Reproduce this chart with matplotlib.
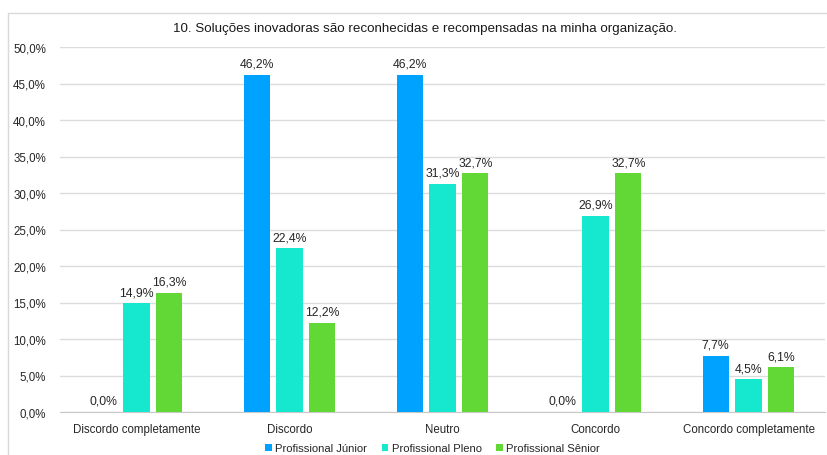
import matplotlib.pyplot as plt
from matplotlib.patches import Rectangle
from matplotlib.ticker import FuncFormatter
import numpy as np

plt.rcParams['font.family'] = ['Liberation Sans', 'DejaVu Sans']

categories = ['Discordo completamente', 'Discordo', 'Neutro', 'Concordo', 'Concordo completamente']
series = ['Profissional Júnior', 'Profissional Pleno', 'Profissional Sênior']
junior = [0.0, 46.2, 46.2, 0.0, 7.7]
pleno = [14.9, 22.4, 31.3, 26.9, 4.5]
senior = [16.3, 12.2, 32.7, 32.7, 6.1]
colors = ['#00A2FF', '#16E7CF', '#61D836']
title = '10. Soluções inovadoras são reconhecidas e recompensadas na minha organização.'


def pct(v):
    return f'{v:.1f}%'.replace('.', ',')


fig = plt.figure(figsize=(8.27, 4.56), dpi=100, facecolor='white')
# outer frame of the chart box
fig.patches.append(Rectangle((8 / 827, -0.1), 1.0, 1 - 14 / 456 + 0.1, transform=fig.transFigure,
                             fill=False, edgecolor='#d9d9d9', linewidth=1.0))

ax = fig.add_axes([60 / 827, 1 - 413 / 456, 765 / 827, 365 / 456])
x = np.arange(len(categories))
step = 0.215
width = 0.17
for i, (vals, name, col) in enumerate(zip([junior, pleno, senior], series, colors)):
    pos = x + (i - 1) * step
    ax.bar(pos, vals, width, color=col, label=name, zorder=3)
    for px, v in zip(pos, vals):
        ax.text(px, v + 0.7, pct(v), ha='center', va='bottom', fontsize=8.8, color='#262626')

ax.set_xlim(-0.5, 4.5)
ax.set_ylim(0, 50)
ax.set_yticks(np.arange(0, 51, 5))
ax.yaxis.set_major_formatter(FuncFormatter(lambda v, p: pct(v)))
ax.set_xticks(x)
ax.set_xticklabels(categories)
ax.tick_params(axis='both', length=0, labelsize=8.3, colors='#262626')
ax.tick_params(axis='x', pad=8)
ax.tick_params(axis='y', pad=10)
ax.grid(axis='y', color='#dcdcdc', linewidth=1.0, zorder=0)
for s in ['top', 'right', 'left']:
    ax.spines[s].set_visible(False)
ax.spines['bottom'].set_color('#c8c8c8')
ax.set_axisbelow(True)

fig.text(0.514, 1 - 29 / 456, title, ha='center', va='center', fontsize=9.6, color='#1a1a1a')

ax.legend(loc='center', bbox_to_anchor=(0.487, -0.1), ncol=3, frameon=False, fontsize=8.1,
          handlelength=0.6, handleheight=0.6, handletextpad=0.3, columnspacing=1.3,
          labelcolor='#262626')

fig.savefig('out.png', dpi=100)
